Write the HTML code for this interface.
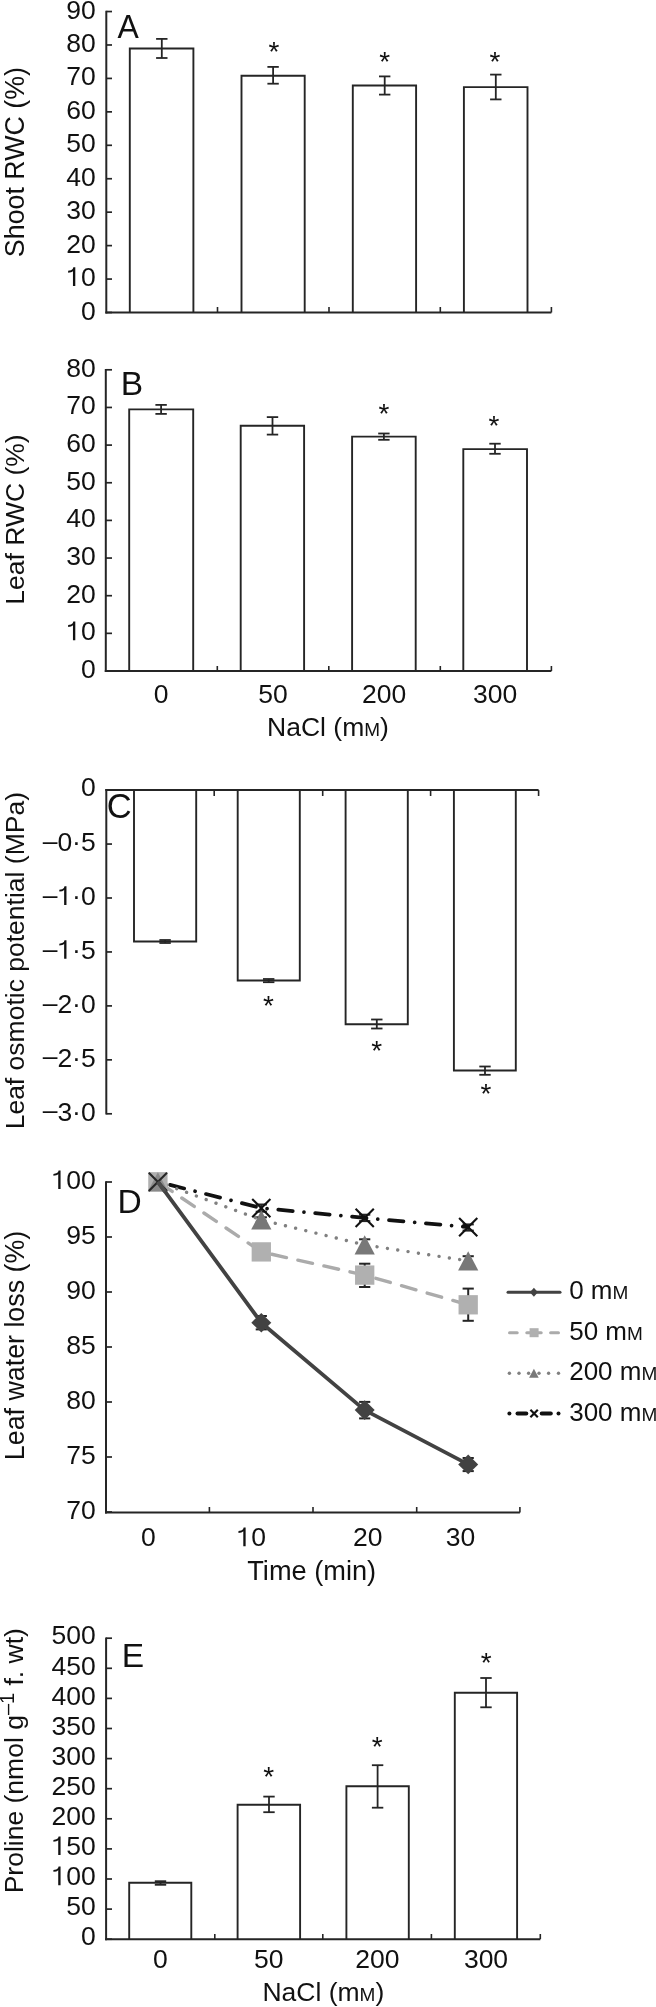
<!DOCTYPE html>
<html><head><meta charset="utf-8"><style>
html,body{margin:0;padding:0;background:#fff;}
svg{display:block;will-change:transform;}
text{font-family:"Liberation Sans",sans-serif;fill:#111;}
</style></head><body>
<svg width="656" height="2007" viewBox="0 0 656 2007">
<rect width="656" height="2007" fill="#fff"/>
<path d="M129.80,312.50 V48.50 H193.40 V312.50" fill="#fff" stroke="#252525" stroke-width="1.9"/>
<path d="M241.50,312.50 V75.70 H304.70 V312.50" fill="#fff" stroke="#252525" stroke-width="1.9"/>
<path d="M352.80,312.50 V85.50 H416.10 V312.50" fill="#fff" stroke="#252525" stroke-width="1.9"/>
<path d="M463.90,312.50 V87.10 H527.50 V312.50" fill="#fff" stroke="#252525" stroke-width="1.9"/>
<path d="M129.20,671.00 V409.40 H193.20 V671.00" fill="#fff" stroke="#252525" stroke-width="1.9"/>
<path d="M240.70,671.00 V425.80 H304.10 V671.00" fill="#fff" stroke="#252525" stroke-width="1.9"/>
<path d="M352.10,671.00 V436.60 H415.70 V671.00" fill="#fff" stroke="#252525" stroke-width="1.9"/>
<path d="M463.30,671.00 V449.10 H527.00 V671.00" fill="#fff" stroke="#252525" stroke-width="1.9"/>
<path d="M134.00,790.10 V941.50 H196.20 V790.10" fill="#fff" stroke="#252525" stroke-width="1.9"/>
<path d="M237.70,790.10 V980.50 H299.80 V790.10" fill="#fff" stroke="#252525" stroke-width="1.9"/>
<path d="M345.60,790.10 V1024.30 H407.80 V790.10" fill="#fff" stroke="#252525" stroke-width="1.9"/>
<path d="M453.90,790.10 V1070.50 H515.80 V790.10" fill="#fff" stroke="#252525" stroke-width="1.9"/>
<path d="M129.20,1939.20 V1882.80 H191.30 V1939.20" fill="#fff" stroke="#252525" stroke-width="1.9"/>
<path d="M237.60,1939.20 V1804.80 H300.10 V1939.20" fill="#fff" stroke="#252525" stroke-width="1.9"/>
<path d="M346.40,1939.20 V1786.30 H408.80 V1939.20" fill="#fff" stroke="#252525" stroke-width="1.9"/>
<path d="M454.80,1939.20 V1692.70 H517.10 V1939.20" fill="#fff" stroke="#252525" stroke-width="1.9"/>
<line x1="106.30" y1="10.70" x2="106.30" y2="313.50" stroke="#252525" stroke-width="2.0" />
<line x1="106.30" y1="312.50" x2="112.00" y2="312.50" stroke="#252525" stroke-width="1.7" />
<text x="95.70" y="319.52" font-size="26.5" text-anchor="end" >0</text>
<line x1="106.30" y1="279.06" x2="112.00" y2="279.06" stroke="#252525" stroke-width="1.7" />
<path d="M75.30,286.08 L75.30,267.34 L73.33,267.34 L72.72,269.12 L71.00,270.31 L68.14,270.84 L68.14,272.69 L71.00,272.30 L72.33,271.63 L72.96,270.97 L72.96,286.08Z" fill="#111"/>
<text x="95.70" y="286.08" font-size="26.5" text-anchor="end" > 0</text>
<line x1="106.30" y1="245.62" x2="112.00" y2="245.62" stroke="#252525" stroke-width="1.7" />
<text x="95.70" y="252.64" font-size="26.5" text-anchor="end" >20</text>
<line x1="106.30" y1="212.18" x2="112.00" y2="212.18" stroke="#252525" stroke-width="1.7" />
<text x="95.70" y="219.20" font-size="26.5" text-anchor="end" >30</text>
<line x1="106.30" y1="178.74" x2="112.00" y2="178.74" stroke="#252525" stroke-width="1.7" />
<text x="95.70" y="185.76" font-size="26.5" text-anchor="end" >40</text>
<line x1="106.30" y1="145.30" x2="112.00" y2="145.30" stroke="#252525" stroke-width="1.7" />
<text x="95.70" y="152.32" font-size="26.5" text-anchor="end" >50</text>
<line x1="106.30" y1="111.86" x2="112.00" y2="111.86" stroke="#252525" stroke-width="1.7" />
<text x="95.70" y="118.88" font-size="26.5" text-anchor="end" >60</text>
<line x1="106.30" y1="78.42" x2="112.00" y2="78.42" stroke="#252525" stroke-width="1.7" />
<text x="95.70" y="85.44" font-size="26.5" text-anchor="end" >70</text>
<line x1="106.30" y1="44.98" x2="112.00" y2="44.98" stroke="#252525" stroke-width="1.7" />
<text x="95.70" y="52.00" font-size="26.5" text-anchor="end" >80</text>
<line x1="106.30" y1="11.54" x2="112.00" y2="11.54" stroke="#252525" stroke-width="1.7" />
<text x="95.70" y="18.56" font-size="26.5" text-anchor="end" >90</text>
<line x1="105.30" y1="312.50" x2="551.40" y2="312.50" stroke="#252525" stroke-width="2.0" />
<line x1="217.50" y1="312.50" x2="217.50" y2="307.00" stroke="#252525" stroke-width="1.6" />
<line x1="329.00" y1="312.50" x2="329.00" y2="307.00" stroke="#252525" stroke-width="1.6" />
<line x1="440.30" y1="312.50" x2="440.30" y2="307.00" stroke="#252525" stroke-width="1.6" />
<line x1="551.40" y1="312.50" x2="551.40" y2="307.00" stroke="#252525" stroke-width="1.6" />
<line x1="161.80" y1="38.90" x2="161.80" y2="58.00" stroke="#252525" stroke-width="1.8" />
<line x1="156.10" y1="38.90" x2="167.50" y2="38.90" stroke="#252525" stroke-width="1.8" />
<line x1="156.10" y1="58.00" x2="167.50" y2="58.00" stroke="#252525" stroke-width="1.8" />
<line x1="273.10" y1="66.90" x2="273.10" y2="83.70" stroke="#252525" stroke-width="1.8" />
<line x1="267.40" y1="66.90" x2="278.80" y2="66.90" stroke="#252525" stroke-width="1.8" />
<line x1="267.40" y1="83.70" x2="278.80" y2="83.70" stroke="#252525" stroke-width="1.8" />
<line x1="384.70" y1="76.40" x2="384.70" y2="94.60" stroke="#252525" stroke-width="1.8" />
<line x1="379.00" y1="76.40" x2="390.40" y2="76.40" stroke="#252525" stroke-width="1.8" />
<line x1="379.00" y1="94.60" x2="390.40" y2="94.60" stroke="#252525" stroke-width="1.8" />
<line x1="495.80" y1="74.60" x2="495.80" y2="99.40" stroke="#252525" stroke-width="1.8" />
<line x1="490.10" y1="74.60" x2="501.50" y2="74.60" stroke="#252525" stroke-width="1.8" />
<line x1="490.10" y1="99.40" x2="501.50" y2="99.40" stroke="#252525" stroke-width="1.8" />
<text x="274.00" y="61.25" font-size="28" text-anchor="middle" >*</text>
<text x="384.80" y="71.25" font-size="28" text-anchor="middle" >*</text>
<text x="495.00" y="71.25" font-size="28" text-anchor="middle" >*</text>
<text transform="translate(117.4,37.6) scale(0.94,1)" x="0" y="0" font-size="34">A</text>
<text transform="translate(24.10,162.10) rotate(-90)" x="0" y="0" font-size="26.8" text-anchor="middle" >Shoot RWC (%)</text>
<line x1="105.80" y1="369.00" x2="105.80" y2="672.00" stroke="#252525" stroke-width="2.0" />
<line x1="105.80" y1="671.00" x2="112.00" y2="671.00" stroke="#252525" stroke-width="1.7" />
<text x="95.70" y="677.92" font-size="26.5" text-anchor="end" >0</text>
<line x1="105.80" y1="633.35" x2="112.00" y2="633.35" stroke="#252525" stroke-width="1.7" />
<path d="M75.30,640.27 L75.30,621.53 L73.33,621.53 L72.72,623.31 L71.00,624.50 L68.14,625.03 L68.14,626.88 L71.00,626.49 L72.33,625.82 L72.96,625.16 L72.96,640.27Z" fill="#111"/>
<text x="95.70" y="640.27" font-size="26.5" text-anchor="end" > 0</text>
<line x1="105.80" y1="595.70" x2="112.00" y2="595.70" stroke="#252525" stroke-width="1.7" />
<text x="95.70" y="602.62" font-size="26.5" text-anchor="end" >20</text>
<line x1="105.80" y1="558.05" x2="112.00" y2="558.05" stroke="#252525" stroke-width="1.7" />
<text x="95.70" y="564.97" font-size="26.5" text-anchor="end" >30</text>
<line x1="105.80" y1="520.40" x2="112.00" y2="520.40" stroke="#252525" stroke-width="1.7" />
<text x="95.70" y="527.32" font-size="26.5" text-anchor="end" >40</text>
<line x1="105.80" y1="482.75" x2="112.00" y2="482.75" stroke="#252525" stroke-width="1.7" />
<text x="95.70" y="489.67" font-size="26.5" text-anchor="end" >50</text>
<line x1="105.80" y1="445.10" x2="112.00" y2="445.10" stroke="#252525" stroke-width="1.7" />
<text x="95.70" y="452.02" font-size="26.5" text-anchor="end" >60</text>
<line x1="105.80" y1="407.45" x2="112.00" y2="407.45" stroke="#252525" stroke-width="1.7" />
<text x="95.70" y="414.37" font-size="26.5" text-anchor="end" >70</text>
<line x1="105.80" y1="369.80" x2="112.00" y2="369.80" stroke="#252525" stroke-width="1.7" />
<text x="95.70" y="376.72" font-size="26.5" text-anchor="end" >80</text>
<line x1="104.80" y1="671.00" x2="551.40" y2="671.00" stroke="#252525" stroke-width="2.0" />
<line x1="217.30" y1="671.00" x2="217.30" y2="666.00" stroke="#252525" stroke-width="1.6" />
<line x1="328.80" y1="671.00" x2="328.80" y2="666.00" stroke="#252525" stroke-width="1.6" />
<line x1="440.30" y1="671.00" x2="440.30" y2="666.00" stroke="#252525" stroke-width="1.6" />
<line x1="551.40" y1="671.00" x2="551.40" y2="666.00" stroke="#252525" stroke-width="1.6" />
<line x1="161.10" y1="404.90" x2="161.10" y2="413.90" stroke="#252525" stroke-width="1.8" />
<line x1="155.40" y1="404.90" x2="166.80" y2="404.90" stroke="#252525" stroke-width="1.8" />
<line x1="155.40" y1="413.90" x2="166.80" y2="413.90" stroke="#252525" stroke-width="1.8" />
<line x1="272.50" y1="417.10" x2="272.50" y2="434.60" stroke="#252525" stroke-width="1.8" />
<line x1="266.80" y1="417.10" x2="278.20" y2="417.10" stroke="#252525" stroke-width="1.8" />
<line x1="266.80" y1="434.60" x2="278.20" y2="434.60" stroke="#252525" stroke-width="1.8" />
<line x1="383.90" y1="433.50" x2="383.90" y2="439.80" stroke="#252525" stroke-width="1.8" />
<line x1="378.20" y1="433.50" x2="389.60" y2="433.50" stroke="#252525" stroke-width="1.8" />
<line x1="378.20" y1="439.80" x2="389.60" y2="439.80" stroke="#252525" stroke-width="1.8" />
<line x1="495.00" y1="443.70" x2="495.00" y2="453.80" stroke="#252525" stroke-width="1.8" />
<line x1="489.30" y1="443.70" x2="500.70" y2="443.70" stroke="#252525" stroke-width="1.8" />
<line x1="489.30" y1="453.80" x2="500.70" y2="453.80" stroke="#252525" stroke-width="1.8" />
<text x="383.90" y="423.15" font-size="28" text-anchor="middle" >*</text>
<text x="493.90" y="434.75" font-size="28" text-anchor="middle" >*</text>
<text x="120.65" y="394.80" font-size="33.5" text-anchor="start" >B</text>
<text x="161.20" y="703.30" font-size="26.5" text-anchor="middle" >0</text>
<text x="272.90" y="703.30" font-size="26.5" text-anchor="middle" >50</text>
<text x="384.20" y="703.30" font-size="26.5" text-anchor="middle" >200</text>
<text x="495.20" y="703.30" font-size="26.5" text-anchor="middle" >300</text>
<text x="328.00" y="736.40" font-size="26.5" text-anchor="middle" >NaCl (m<tspan font-size="19">M</tspan>)</text>
<text transform="translate(24.00,519.50) rotate(-90)" x="0" y="0" font-size="26.5" text-anchor="middle" >Leaf RWC (%)</text>
<line x1="106.30" y1="789.10" x2="106.30" y2="1114.50" stroke="#252525" stroke-width="2.0" />
<text x="95.70" y="796.22" font-size="26.5" text-anchor="end" >0</text>
<line x1="106.30" y1="844.05" x2="112.00" y2="844.05" stroke="#252525" stroke-width="1.7" />
<text x="95.70" y="850.97" font-size="26.5" text-anchor="end" ><tspan dy="-1.3">–</tspan><tspan dy="1.3">0·5</tspan></text>
<line x1="106.30" y1="898.00" x2="112.00" y2="898.00" stroke="#252525" stroke-width="1.7" />
<path d="M66.47,904.92 L66.47,886.18 L64.51,886.18 L63.90,887.96 L62.18,889.15 L59.32,889.68 L59.32,891.53 L62.18,891.14 L63.50,890.47 L64.14,889.81 L64.14,904.92Z" fill="#111"/>
<text x="95.70" y="904.92" font-size="26.5" text-anchor="end" ><tspan dy="-1.3">–</tspan><tspan dy="1.3"> ·0</tspan></text>
<line x1="106.30" y1="951.95" x2="112.00" y2="951.95" stroke="#252525" stroke-width="1.7" />
<path d="M66.47,958.87 L66.47,940.13 L64.51,940.13 L63.90,941.91 L62.18,943.10 L59.32,943.63 L59.32,945.48 L62.18,945.09 L63.50,944.42 L64.14,943.76 L64.14,958.87Z" fill="#111"/>
<text x="95.70" y="958.87" font-size="26.5" text-anchor="end" ><tspan dy="-1.3">–</tspan><tspan dy="1.3"> ·5</tspan></text>
<line x1="106.30" y1="1005.90" x2="112.00" y2="1005.90" stroke="#252525" stroke-width="1.7" />
<text x="95.70" y="1012.82" font-size="26.5" text-anchor="end" ><tspan dy="-1.3">–</tspan><tspan dy="1.3">2·0</tspan></text>
<line x1="106.30" y1="1059.85" x2="112.00" y2="1059.85" stroke="#252525" stroke-width="1.7" />
<text x="95.70" y="1066.77" font-size="26.5" text-anchor="end" ><tspan dy="-1.3">–</tspan><tspan dy="1.3">2·5</tspan></text>
<line x1="106.30" y1="1113.80" x2="112.00" y2="1113.80" stroke="#252525" stroke-width="1.7" />
<text x="95.70" y="1120.72" font-size="26.5" text-anchor="end" ><tspan dy="-1.3">–</tspan><tspan dy="1.3">3·0</tspan></text>
<line x1="105.30" y1="790.10" x2="538.60" y2="790.10" stroke="#252525" stroke-width="2.0" />
<line x1="214.20" y1="790.10" x2="214.20" y2="796.00" stroke="#252525" stroke-width="1.6" />
<line x1="322.70" y1="790.10" x2="322.70" y2="796.00" stroke="#252525" stroke-width="1.6" />
<line x1="430.60" y1="790.10" x2="430.60" y2="796.00" stroke="#252525" stroke-width="1.6" />
<line x1="538.60" y1="790.10" x2="538.60" y2="796.00" stroke="#252525" stroke-width="1.6" />
<line x1="165.10" y1="940.00" x2="165.10" y2="943.00" stroke="#252525" stroke-width="1.8" />
<line x1="159.40" y1="940.00" x2="170.80" y2="940.00" stroke="#252525" stroke-width="1.8" />
<line x1="159.40" y1="943.00" x2="170.80" y2="943.00" stroke="#252525" stroke-width="1.8" />
<line x1="268.70" y1="979.00" x2="268.70" y2="982.20" stroke="#252525" stroke-width="1.8" />
<line x1="263.00" y1="979.00" x2="274.40" y2="979.00" stroke="#252525" stroke-width="1.8" />
<line x1="263.00" y1="982.20" x2="274.40" y2="982.20" stroke="#252525" stroke-width="1.8" />
<line x1="376.80" y1="1019.50" x2="376.80" y2="1028.50" stroke="#252525" stroke-width="1.8" />
<line x1="371.10" y1="1019.50" x2="382.50" y2="1019.50" stroke="#252525" stroke-width="1.8" />
<line x1="371.10" y1="1028.50" x2="382.50" y2="1028.50" stroke="#252525" stroke-width="1.8" />
<line x1="485.00" y1="1066.50" x2="485.00" y2="1074.80" stroke="#252525" stroke-width="1.8" />
<line x1="479.30" y1="1066.50" x2="490.70" y2="1066.50" stroke="#252525" stroke-width="1.8" />
<line x1="479.30" y1="1074.80" x2="490.70" y2="1074.80" stroke="#252525" stroke-width="1.8" />
<text x="268.40" y="1014.85" font-size="28" text-anchor="middle" >*</text>
<text x="376.80" y="1059.55" font-size="28" text-anchor="middle" >*</text>
<text x="485.90" y="1102.75" font-size="28" text-anchor="middle" >*</text>
<text x="106.74" y="817.70" font-size="34.5" text-anchor="start" >C</text>
<text transform="translate(23.60,960.70) rotate(-90)" x="0" y="0" font-size="26.5" text-anchor="middle" >Leaf osmotic potential (MPa)</text>
<line x1="106.00" y1="1181.20" x2="106.00" y2="1513.40" stroke="#252525" stroke-width="2.0" />
<line x1="106.00" y1="1182.00" x2="112.00" y2="1182.00" stroke="#252525" stroke-width="1.7" />
<path d="M60.56,1189.12 L60.56,1170.38 L58.60,1170.38 L57.99,1172.16 L56.27,1173.35 L53.41,1173.88 L53.41,1175.73 L56.27,1175.34 L57.59,1174.67 L58.23,1174.01 L58.23,1189.12Z" fill="#111"/>
<text x="95.70" y="1189.12" font-size="26.5" text-anchor="end" > 00</text>
<line x1="106.00" y1="1237.00" x2="112.00" y2="1237.00" stroke="#252525" stroke-width="1.7" />
<text x="95.70" y="1244.12" font-size="26.5" text-anchor="end" >95</text>
<line x1="106.00" y1="1292.00" x2="112.00" y2="1292.00" stroke="#252525" stroke-width="1.7" />
<text x="95.70" y="1299.12" font-size="26.5" text-anchor="end" >90</text>
<line x1="106.00" y1="1347.00" x2="112.00" y2="1347.00" stroke="#252525" stroke-width="1.7" />
<text x="95.70" y="1354.12" font-size="26.5" text-anchor="end" >85</text>
<line x1="106.00" y1="1402.00" x2="112.00" y2="1402.00" stroke="#252525" stroke-width="1.7" />
<text x="95.70" y="1409.12" font-size="26.5" text-anchor="end" >80</text>
<line x1="106.00" y1="1457.00" x2="112.00" y2="1457.00" stroke="#252525" stroke-width="1.7" />
<text x="95.70" y="1464.12" font-size="26.5" text-anchor="end" >75</text>
<line x1="106.00" y1="1512.00" x2="112.00" y2="1512.00" stroke="#252525" stroke-width="1.7" />
<text x="95.70" y="1519.12" font-size="26.5" text-anchor="end" >70</text>
<line x1="105.00" y1="1512.40" x2="519.90" y2="1512.40" stroke="#252525" stroke-width="2.0" />
<line x1="209.40" y1="1512.40" x2="209.40" y2="1507.00" stroke="#252525" stroke-width="1.6" />
<line x1="313.00" y1="1512.40" x2="313.00" y2="1507.00" stroke="#252525" stroke-width="1.6" />
<line x1="416.70" y1="1512.40" x2="416.70" y2="1507.00" stroke="#252525" stroke-width="1.6" />
<line x1="519.90" y1="1512.40" x2="519.90" y2="1507.00" stroke="#252525" stroke-width="1.6" />
<text x="148.40" y="1546.30" font-size="26.5" text-anchor="middle" >0</text>
<path d="M245.63,1546.30 L245.63,1527.56 L243.67,1527.56 L243.06,1529.34 L241.34,1530.53 L238.47,1531.06 L238.47,1532.92 L241.34,1532.52 L242.66,1531.86 L243.30,1531.19 L243.30,1546.30Z" fill="#111"/>
<text x="251.30" y="1546.30" font-size="26.5" text-anchor="middle" > 0</text>
<text x="367.80" y="1546.30" font-size="26.5" text-anchor="middle" >20</text>
<text x="460.50" y="1546.30" font-size="26.5" text-anchor="middle" >30</text>
<text x="311.70" y="1579.80" font-size="27.2" text-anchor="middle" >Time (min)</text>
<text x="117.45" y="1212.80" font-size="33.5" text-anchor="start" >D</text>
<text transform="translate(23.90,1345.50) rotate(-90)" x="0" y="0" font-size="26.8" text-anchor="middle" >Leaf water loss (%)</text>
<line x1="261.30" y1="1316.00" x2="261.30" y2="1329.40" stroke="#252525" stroke-width="2" />
<line x1="255.70" y1="1316.00" x2="266.90" y2="1316.00" stroke="#252525" stroke-width="2" />
<line x1="255.70" y1="1329.40" x2="266.90" y2="1329.40" stroke="#252525" stroke-width="2" />
<line x1="364.70" y1="1401.90" x2="364.70" y2="1418.40" stroke="#252525" stroke-width="2" />
<line x1="359.10" y1="1401.90" x2="370.30" y2="1401.90" stroke="#252525" stroke-width="2" />
<line x1="359.10" y1="1418.40" x2="370.30" y2="1418.40" stroke="#252525" stroke-width="2" />
<line x1="468.20" y1="1458.00" x2="468.20" y2="1471.10" stroke="#252525" stroke-width="2" />
<line x1="462.60" y1="1458.00" x2="473.80" y2="1458.00" stroke="#252525" stroke-width="2" />
<line x1="462.60" y1="1471.10" x2="473.80" y2="1471.10" stroke="#252525" stroke-width="2" />
<line x1="364.70" y1="1263.70" x2="364.70" y2="1287.00" stroke="#252525" stroke-width="2" />
<line x1="359.10" y1="1263.70" x2="370.30" y2="1263.70" stroke="#252525" stroke-width="2" />
<line x1="359.10" y1="1287.00" x2="370.30" y2="1287.00" stroke="#252525" stroke-width="2" />
<line x1="468.20" y1="1288.60" x2="468.20" y2="1320.80" stroke="#252525" stroke-width="2" />
<line x1="462.60" y1="1288.60" x2="473.80" y2="1288.60" stroke="#252525" stroke-width="2" />
<line x1="462.60" y1="1320.80" x2="473.80" y2="1320.80" stroke="#252525" stroke-width="2" />
<line x1="261.30" y1="1217.30" x2="261.30" y2="1222.50" stroke="#252525" stroke-width="2" />
<line x1="255.70" y1="1217.30" x2="266.90" y2="1217.30" stroke="#252525" stroke-width="2" />
<line x1="255.70" y1="1222.50" x2="266.90" y2="1222.50" stroke="#252525" stroke-width="2" />
<line x1="364.70" y1="1239.30" x2="364.70" y2="1250.50" stroke="#252525" stroke-width="2" />
<line x1="359.10" y1="1239.30" x2="370.30" y2="1239.30" stroke="#252525" stroke-width="2" />
<line x1="359.10" y1="1250.50" x2="370.30" y2="1250.50" stroke="#252525" stroke-width="2" />
<line x1="468.20" y1="1256.20" x2="468.20" y2="1265.60" stroke="#252525" stroke-width="2" />
<line x1="462.60" y1="1256.20" x2="473.80" y2="1256.20" stroke="#252525" stroke-width="2" />
<line x1="462.60" y1="1265.60" x2="473.80" y2="1265.60" stroke="#252525" stroke-width="2" />
<line x1="261.30" y1="1204.50" x2="261.30" y2="1211.70" stroke="#252525" stroke-width="2" />
<line x1="255.70" y1="1204.50" x2="266.90" y2="1204.50" stroke="#252525" stroke-width="2" />
<line x1="255.70" y1="1211.70" x2="266.90" y2="1211.70" stroke="#252525" stroke-width="2" />
<line x1="364.70" y1="1214.70" x2="364.70" y2="1221.10" stroke="#252525" stroke-width="2" />
<line x1="359.10" y1="1214.70" x2="370.30" y2="1214.70" stroke="#252525" stroke-width="2" />
<line x1="359.10" y1="1221.10" x2="370.30" y2="1221.10" stroke="#252525" stroke-width="2" />
<line x1="468.20" y1="1224.40" x2="468.20" y2="1230.60" stroke="#252525" stroke-width="2" />
<line x1="462.60" y1="1224.40" x2="473.80" y2="1224.40" stroke="#252525" stroke-width="2" />
<line x1="462.60" y1="1230.60" x2="473.80" y2="1230.60" stroke="#252525" stroke-width="2" />
<polyline points="157.90,1181.80 261.30,1208.10 364.70,1217.90 468.20,1227.10" fill="none" stroke="#111" stroke-width="3.7" stroke-linecap="round" stroke-dasharray="0.01 11.25 14.55 11.25" stroke-dashoffset="-1.3"/>
<polyline points="157.90,1181.80 261.30,1219.90 364.70,1244.90 468.20,1260.90" fill="none" stroke="#808080" stroke-width="3.4" stroke-linecap="round" stroke-dasharray="0.01 10.44" stroke-dashoffset="0.8"/>
<polyline points="157.90,1181.80 261.30,1251.90 364.70,1275.10 468.20,1304.80" fill="none" stroke="#ababab" stroke-width="3.4" stroke-linecap="round" stroke-dasharray="15 11.7" stroke-dashoffset="-2.2"/>
<rect x="148.25" y="1172.15" width="19.30" height="19.30" fill="#b0b0b0"/>
<rect x="251.65" y="1242.25" width="19.30" height="19.30" fill="#b0b0b0"/>
<rect x="355.05" y="1265.45" width="19.30" height="19.30" fill="#b0b0b0"/>
<rect x="458.55" y="1295.15" width="19.30" height="19.30" fill="#b0b0b0"/>
<path d="M157.90,1172.20 L168.00,1191.40 L147.80,1191.40Z" fill="#8a8a8a"/>
<path d="M261.30,1210.30 L271.40,1229.50 L251.20,1229.50Z" fill="#787878"/>
<path d="M364.70,1235.30 L374.80,1254.50 L354.60,1254.50Z" fill="#787878"/>
<path d="M468.20,1251.30 L478.30,1270.50 L458.10,1270.50Z" fill="#787878"/>
<path d="M148.80,1172.70 L167.00,1190.90 M167.00,1172.70 L148.80,1190.90" stroke="#262626" stroke-width="2.1" fill="none"/>
<path d="M252.20,1199.00 L270.40,1217.20 M270.40,1199.00 L252.20,1217.20" stroke="#111" stroke-width="2.1" fill="none"/>
<path d="M355.60,1208.80 L373.80,1227.00 M373.80,1208.80 L355.60,1227.00" stroke="#111" stroke-width="2.1" fill="none"/>
<path d="M459.10,1218.00 L477.30,1236.20 M477.30,1218.00 L459.10,1236.20" stroke="#111" stroke-width="2.1" fill="none"/>
<polyline points="157.90,1181.80 261.30,1322.70 364.70,1410.10 468.20,1464.40" fill="none" stroke="#424242" stroke-width="3.8" stroke-linejoin="round"/>
<line x1="157.9" y1="1181.8" x2="165.1" y2="1191.6" stroke="#4d4d4d" stroke-width="3.8"/>
<path d="M251.30,1322.70 L261.30,1312.90 L271.30,1322.70 L261.30,1332.50Z" fill="#424242"/>
<path d="M354.70,1410.10 L364.70,1400.30 L374.70,1410.10 L364.70,1419.90Z" fill="#424242"/>
<path d="M458.20,1464.40 L468.20,1454.60 L478.20,1464.40 L468.20,1474.20Z" fill="#424242"/>
<line x1="508" y1="1292.2" x2="560" y2="1292.2" stroke="#424242" stroke-width="3" stroke-linecap="round"/>
<path d="M529.90,1292.20 L533.90,1287.70 L537.90,1292.20 L533.90,1296.70Z" fill="#424242"/>
<line x1="509.5" y1="1332.7" x2="517.2" y2="1332.7" stroke="#ababab" stroke-width="3" stroke-linecap="round"/>
<line x1="526.8" y1="1332.7" x2="541.2" y2="1332.7" stroke="#ababab" stroke-width="3" stroke-linecap="round"/>
<line x1="550.6" y1="1332.7" x2="558.5" y2="1332.7" stroke="#ababab" stroke-width="3" stroke-linecap="round"/>
<rect x="529.60" y="1328.20" width="9.00" height="9.00" fill="#b0b0b0"/>
<circle cx="509.4" cy="1373.3" r="1.7" fill="#808080"/>
<circle cx="519" cy="1373.3" r="1.7" fill="#808080"/>
<circle cx="528.6" cy="1373.3" r="1.7" fill="#808080"/>
<circle cx="539" cy="1373.3" r="1.7" fill="#808080"/>
<circle cx="548.6" cy="1373.3" r="1.7" fill="#808080"/>
<circle cx="558.5" cy="1373.3" r="1.7" fill="#808080"/>
<path d="M533.90,1368.80 L538.70,1377.80 L529.10,1377.80Z" fill="#787878"/>
<circle cx="509.4" cy="1413.5" r="2" fill="#111"/>
<circle cx="558.5" cy="1413.5" r="2" fill="#111"/>
<line x1="517.5" y1="1413.5" x2="526.3" y2="1413.5" stroke="#111" stroke-width="4" stroke-linecap="round"/>
<line x1="541.7" y1="1413.5" x2="550.8" y2="1413.5" stroke="#111" stroke-width="4" stroke-linecap="round"/>
<path d="M530.40,1409.80 L537.80,1417.20 M537.80,1409.80 L530.40,1417.20" stroke="#111" stroke-width="2.2" fill="none"/>
<text x="569.20" y="1299.30" font-size="26" text-anchor="start" >0 m<tspan font-size="19">M</tspan></text>
<text x="569.20" y="1339.80" font-size="26" text-anchor="start" >50 m<tspan font-size="19">M</tspan></text>
<text x="569.20" y="1380.30" font-size="26" text-anchor="start" >200 m<tspan font-size="19">M</tspan></text>
<text x="569.20" y="1420.80" font-size="26" text-anchor="start" >300 m<tspan font-size="19">M</tspan></text>
<line x1="106.10" y1="1637.40" x2="106.10" y2="1940.20" stroke="#252525" stroke-width="2.0" />
<line x1="106.10" y1="1939.20" x2="112.00" y2="1939.20" stroke="#252525" stroke-width="1.7" />
<text x="95.70" y="1945.42" font-size="26.5" text-anchor="end" >0</text>
<line x1="106.10" y1="1909.10" x2="112.00" y2="1909.10" stroke="#252525" stroke-width="1.7" />
<text x="95.70" y="1915.32" font-size="26.5" text-anchor="end" >50</text>
<line x1="106.10" y1="1879.00" x2="112.00" y2="1879.00" stroke="#252525" stroke-width="1.7" />
<path d="M60.56,1885.22 L60.56,1866.48 L58.60,1866.48 L57.99,1868.26 L56.27,1869.45 L53.41,1869.98 L53.41,1871.83 L56.27,1871.44 L57.59,1870.77 L58.23,1870.11 L58.23,1885.22Z" fill="#111"/>
<text x="95.70" y="1885.22" font-size="26.5" text-anchor="end" > 00</text>
<line x1="106.10" y1="1848.90" x2="112.00" y2="1848.90" stroke="#252525" stroke-width="1.7" />
<path d="M60.56,1855.12 L60.56,1836.38 L58.60,1836.38 L57.99,1838.16 L56.27,1839.35 L53.41,1839.88 L53.41,1841.73 L56.27,1841.34 L57.59,1840.67 L58.23,1840.01 L58.23,1855.12Z" fill="#111"/>
<text x="95.70" y="1855.12" font-size="26.5" text-anchor="end" > 50</text>
<line x1="106.10" y1="1818.80" x2="112.00" y2="1818.80" stroke="#252525" stroke-width="1.7" />
<text x="95.70" y="1825.02" font-size="26.5" text-anchor="end" >200</text>
<line x1="106.10" y1="1788.70" x2="112.00" y2="1788.70" stroke="#252525" stroke-width="1.7" />
<text x="95.70" y="1794.92" font-size="26.5" text-anchor="end" >250</text>
<line x1="106.10" y1="1758.60" x2="112.00" y2="1758.60" stroke="#252525" stroke-width="1.7" />
<text x="95.70" y="1764.82" font-size="26.5" text-anchor="end" >300</text>
<line x1="106.10" y1="1728.50" x2="112.00" y2="1728.50" stroke="#252525" stroke-width="1.7" />
<text x="95.70" y="1734.72" font-size="26.5" text-anchor="end" >350</text>
<line x1="106.10" y1="1698.40" x2="112.00" y2="1698.40" stroke="#252525" stroke-width="1.7" />
<text x="95.70" y="1704.62" font-size="26.5" text-anchor="end" >400</text>
<line x1="106.10" y1="1668.30" x2="112.00" y2="1668.30" stroke="#252525" stroke-width="1.7" />
<text x="95.70" y="1674.52" font-size="26.5" text-anchor="end" >450</text>
<line x1="106.10" y1="1638.20" x2="112.00" y2="1638.20" stroke="#252525" stroke-width="1.7" />
<text x="95.70" y="1644.42" font-size="26.5" text-anchor="end" >500</text>
<line x1="105.10" y1="1939.20" x2="540.30" y2="1939.20" stroke="#252525" stroke-width="2.0" />
<line x1="214.80" y1="1939.20" x2="214.80" y2="1934.00" stroke="#252525" stroke-width="1.6" />
<line x1="322.80" y1="1939.20" x2="322.80" y2="1934.00" stroke="#252525" stroke-width="1.6" />
<line x1="431.40" y1="1939.20" x2="431.40" y2="1934.00" stroke="#252525" stroke-width="1.6" />
<line x1="540.30" y1="1939.20" x2="540.30" y2="1934.00" stroke="#252525" stroke-width="1.6" />
<line x1="160.50" y1="1881.20" x2="160.50" y2="1884.80" stroke="#252525" stroke-width="1.8" />
<line x1="154.80" y1="1881.20" x2="166.20" y2="1881.20" stroke="#252525" stroke-width="1.8" />
<line x1="154.80" y1="1884.80" x2="166.20" y2="1884.80" stroke="#252525" stroke-width="1.8" />
<line x1="269.00" y1="1796.60" x2="269.00" y2="1812.20" stroke="#252525" stroke-width="1.8" />
<line x1="263.30" y1="1796.60" x2="274.70" y2="1796.60" stroke="#252525" stroke-width="1.8" />
<line x1="263.30" y1="1812.20" x2="274.70" y2="1812.20" stroke="#252525" stroke-width="1.8" />
<line x1="377.60" y1="1765.20" x2="377.60" y2="1807.70" stroke="#252525" stroke-width="1.8" />
<line x1="371.90" y1="1765.20" x2="383.30" y2="1765.20" stroke="#252525" stroke-width="1.8" />
<line x1="371.90" y1="1807.70" x2="383.30" y2="1807.70" stroke="#252525" stroke-width="1.8" />
<line x1="486.00" y1="1678.00" x2="486.00" y2="1707.30" stroke="#252525" stroke-width="1.8" />
<line x1="480.30" y1="1678.00" x2="491.70" y2="1678.00" stroke="#252525" stroke-width="1.8" />
<line x1="480.30" y1="1707.30" x2="491.70" y2="1707.30" stroke="#252525" stroke-width="1.8" />
<text x="268.80" y="1785.85" font-size="28" text-anchor="middle" >*</text>
<text x="377.20" y="1756.05" font-size="28" text-anchor="middle" >*</text>
<text x="486.20" y="1672.25" font-size="28" text-anchor="middle" >*</text>
<text x="121.75" y="1666.60" font-size="33.5" text-anchor="start" >E</text>
<text x="160.40" y="1968.20" font-size="26.5" text-anchor="middle" >0</text>
<text x="268.70" y="1968.20" font-size="26.5" text-anchor="middle" >50</text>
<text x="377.30" y="1968.20" font-size="26.5" text-anchor="middle" >200</text>
<text x="486.00" y="1968.20" font-size="26.5" text-anchor="middle" >300</text>
<text x="323.30" y="2000.60" font-size="26.5" text-anchor="middle" >NaCl (m<tspan font-size="19">M</tspan>)</text>
<text transform="translate(23.20,1760.70) rotate(-90)" x="0" y="0" font-size="26.5" text-anchor="middle" >Proline (nmol g<tspan dy="-9" font-size="20">–1</tspan><tspan dy="9"> f. wt)</tspan></text>
</svg>
</body></html>
